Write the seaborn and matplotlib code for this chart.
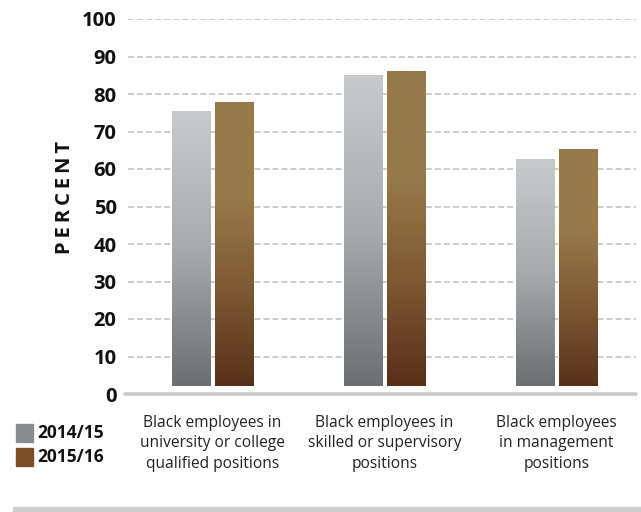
import numpy as np
import pandas as pd
import matplotlib.pyplot as plt
import seaborn as sns
from matplotlib.colors import LinearSegmentedColormap
from matplotlib.patches import Rectangle

# datos
categories = [
    "Black employees in\nuniversity or college\nqualified positions",
    "Black employees in\nskilled or supervisory\npositions",
    "Black employees\nin management\npositions",
]
years = ["2014/15", "2015/16"]
values_2014 = [75.4, 85.0, 62.5]
values_2015 = [77.8, 86.1, 65.2]
yticks = [0, 10, 20, 30, 40, 50, 60, 70, 80, 90, 100]

df = pd.DataFrame({
    "category": categories * 2,
    "year": [years[0]] * 3 + [years[1]] * 3,
    "value": values_2014 + values_2015,
})

sns.set_theme(style="white")
plt.rcParams["font.family"] = ["Open Sans", "DejaVu Sans"]
plt.rcParams["lines.scale_dashes"] = False

legend_colors = {"2014/15": "#8a8b8d", "2015/16": "#7b4e27"}
gray_cmap = LinearSegmentedColormap.from_list("g", ["#6d6e71", "#a9aaac", "#c9cacc"])
brown_cmap = LinearSegmentedColormap.from_list("b", ["#58301a", "#7d5833", "#977a4b", "#987b4c"])

fig = plt.figure(figsize=(6.41, 5.12), dpi=100)
ax = fig.add_axes([125 / 641, 118 / 512, 511 / 641, 375 / 512])

sns.barplot(data=df, x="category", y="value", hue="year", palette=legend_colors,
            width=0.5, gap=0.116, ax=ax, legend=False, zorder=3)

# barras con degradado, arrancando un poco por encima del eje
base = 2.1
grad = np.linspace(0, 1, 256).reshape(-1, 1)
for i, p in enumerate(ax.patches):
    x0 = p.get_x()
    w = p.get_width()
    top = p.get_height()
    cmap = gray_cmap if i < 3 else brown_cmap
    ax.imshow(grad, cmap=cmap, origin="lower", aspect="auto",
              extent=[x0, x0 + w, base, top], zorder=3)
    p.set_visible(False)
ax.set_xlim(-0.509, 2.462)
ax.set_ylim(0, 100)

# rejilla
for v in yticks[1:]:
    ax.axhline(v, xmin=3 / 511, color="#c9c9c9", lw=1.3, ls=(0, (4.3, 2.2)), zorder=1)
ax.axhline(0, color="#c9c9c9", lw=2.6, zorder=2, clip_on=False)

sns.despine(ax=ax, left=True, bottom=True)
ax.set_yticks(yticks)
ax.set_yticklabels([str(v) for v in yticks], fontsize=14.5, fontweight="bold", color="#111111")
ax.tick_params(axis="y", length=0, pad=6)
ax.tick_params(axis="x", length=0, pad=15)
ax.set_xticks([0, 1, 2])
ax.set_xticklabels(categories, fontsize=11.2, color="#222222", linespacing=1.38)
ax.set_xlabel("")
ax.set_ylabel("\u2009".join("PERCENT"), fontsize=14.5, fontweight="bold", color="#111111")
ax.yaxis.set_label_coords(-0.097, 0.525)

# leyenda manual
for k, yr in enumerate(years):
    y_px = 424 + k * 24
    fig.patches.append(Rectangle((16 / 641, 1 - (y_px + 18) / 512), 17 / 641, 18 / 512,
                                 transform=fig.transFigure, color=legend_colors[yr]))
    fig.text(37 / 641, 1 - (y_px + 9) / 512, yr, fontsize=12.5, fontweight="bold",
             va="center", ha="left", color="#111111")

# franja inferior
fig.patches.append(Rectangle((13 / 641, 0), 628 / 641, 5 / 512,
                             transform=fig.transFigure, color="#d0d0d0"))

fig.savefig("out.png", dpi=100)
